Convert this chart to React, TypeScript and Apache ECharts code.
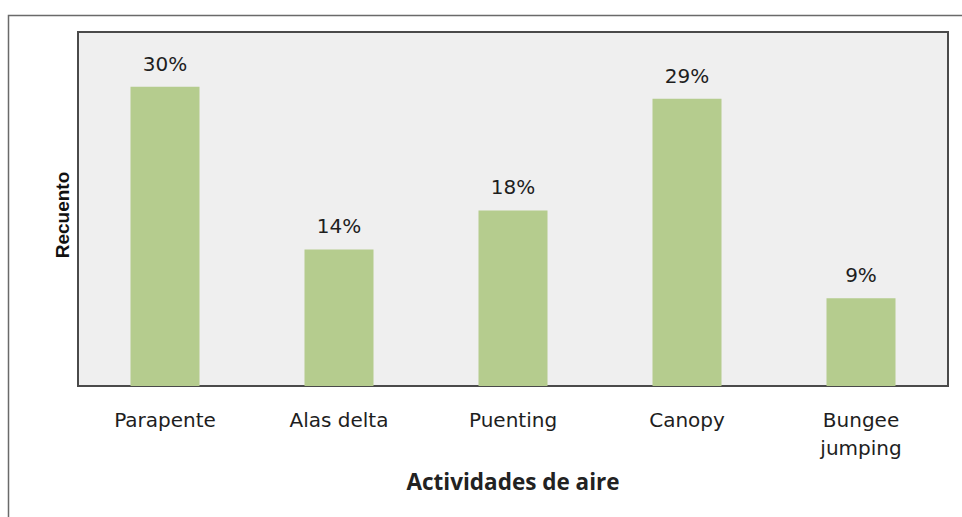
import React, { useEffect, useRef } from "react";
import * as echarts from "echarts";

const categories = ["Parapente", "Alas delta", "Puenting", "Canopy", "Bungee\njumping"];
const values = [30, 13.7, 17.6, 28.8, 8.8];
const labels = ["30%", "14%", "18%", "29%", "9%"];

export default function App() {
  const ref = useRef<HTMLDivElement>(null);
  useEffect(() => {
    const chart = echarts.init(ref.current!, null, { renderer: "svg" });
    chart.setOption({
      animation: false,
      backgroundColor: "#ffffff",
      graphic: [
        {
          type: "polyline",
          shape: { points: [[8.5, 517], [8.5, 15.5], [962, 15.5]] },
          style: { stroke: "#6a6a6a", lineWidth: 1.5, fill: null },
        },
      ],
      grid: {
        left: 78,
        top: 32,
        right: 14,
        bottom: 131,
        show: true,
        backgroundColor: "#efefef",
        borderColor: "#4a4a4a",
        borderWidth: 2,
      },
      xAxis: {
        type: "category",
        data: categories,
        name: "Actividades de aire",
        nameLocation: "middle",
        nameGap: 84,
        nameMoveOverlap: false,
        nameTextStyle: {
          fontFamily: "Open Sans",
          fontWeight: "bold",
          fontSize: 22.5,
          color: "#222",
        },
        axisLine: { show: false },
        axisTick: { show: false },
        axisLabel: {
          margin: 20,
          fontFamily: "DejaVu Sans",
          fontSize: 20,
          color: "#1e1e1e",
          lineHeight: 28,
        },
      },
      yAxis: {
        type: "value",
        min: 0,
        max: 35.5,
        name: "Recuento",
        nameLocation: "middle",
        nameGap: 6.5,
        nameTextStyle: {
          fontFamily: "Liberation Sans Narrow, Liberation Sans",
          fontWeight: "bold",
          fontSize: 19,
          color: "#111",
          padding: [0, 12, 0, 0],
        },
        axisLine: { show: false },
        axisTick: { show: false },
        axisLabel: { show: false },
        splitLine: { show: false },
      },
      series: [
        {
          type: "bar",
          data: values,
          barWidth: 69,
          itemStyle: { color: "#b5cc8e" },
          label: {
            show: true,
            position: "top",
            distance: 13,
            formatter: (p: any) => labels[p.dataIndex],
            fontFamily: "DejaVu Sans",
            fontSize: 20,
            color: "#1e1e1e",
          },
        },
      ],
    });
    return () => chart.dispose();
  }, []);
  return <div ref={ref} style={{ width: 962, height: 517, position: "absolute", left: 0, top: 0 }} />;
}
